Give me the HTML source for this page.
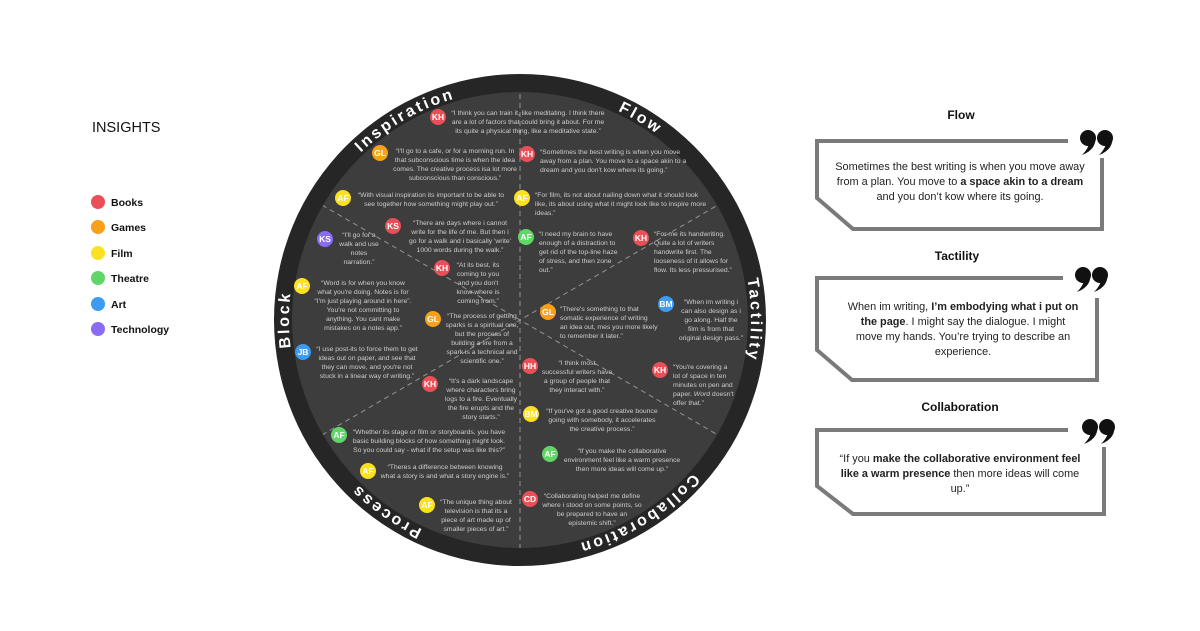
<!DOCTYPE html>
<html><head><meta charset="utf-8"><style>
html,body{margin:0;padding:0;background:#fff;}
svg{display:block;}
.q{font-family:"Liberation Sans",sans-serif;font-size:6.8px;fill:#cdcdcd;}
.c{text-anchor:middle;}
.av{font-family:"Liberation Sans",sans-serif;font-size:8.5px;font-weight:bold;fill:#fff;text-anchor:middle;}
.ring{font-family:"Liberation Sans","DejaVu Sans",sans-serif;font-size:16px;font-weight:bold;fill:#fff;letter-spacing:2.6px;}
.lg{font-family:"Liberation Sans",sans-serif;font-size:10.5px;font-weight:bold;fill:#111;}
.bt{font-family:"Liberation Sans",sans-serif;font-size:12px;font-weight:bold;fill:#111;text-anchor:middle;}
.bx{font-family:"Liberation Sans",sans-serif;font-size:10.9px;fill:#222;text-anchor:middle;}
.fr{fill:none;stroke:#7a7a7a;stroke-width:4;}
</style></head><body>
<svg width="1200" height="631" viewBox="0 0 1200 631" xmlns="http://www.w3.org/2000/svg">
<defs>
<path id="rp" d="M520,551 A231,231 0 1 1 520,89 A231,231 0 1 1 520,551"/>
<clipPath id="ic"><circle cx="520" cy="320" r="228"/></clipPath>
</defs>
<!-- legend -->
<text x="92" y="132" font-family="Liberation Sans,sans-serif" font-size="14.5" fill="#111">INSIGHTS</text>
<circle cx="98" cy="202" r="7" fill="#ea4f57"/><text class="lg" x="111" y="206">Books</text>
<circle cx="98" cy="227" r="7" fill="#f7a019"/><text class="lg" x="111" y="231">Games</text>
<circle cx="98" cy="253" r="7" fill="#fbe122"/><text class="lg" x="111" y="257">Film</text>
<circle cx="98" cy="278" r="7" fill="#5fd667"/><text class="lg" x="111" y="282">Theatre</text>
<circle cx="98" cy="304" r="7" fill="#3d9bf0"/><text class="lg" x="111" y="308">Art</text>
<circle cx="98" cy="329" r="7" fill="#8a6cf2"/><text class="lg" x="111" y="333">Technology</text>

<!-- wheel -->
<circle cx="520" cy="320" r="246" fill="#262626"/>
<circle cx="520" cy="320" r="228" fill="#3d3d3d"/>
<g clip-path="url(#ic)" stroke="#aaa" stroke-width="1" stroke-dasharray="5,4" opacity="0.8">
<line x1="520" y1="85" x2="520" y2="555"/>
<line x1="322" y1="205" x2="718" y2="435"/>
<line x1="322" y1="435" x2="718" y2="205"/>
</g>
<text class="ring"><textPath href="#rp" startOffset="605" text-anchor="middle">Inspiration</textPath></text>
<text class="ring"><textPath href="#rp" startOffset="850" text-anchor="middle">Flow</textPath></text>
<text class="ring"><textPath href="#rp" startOffset="1088" text-anchor="middle">Tactility</textPath></text>
<text class="ring"><textPath href="#rp" startOffset="1324" text-anchor="middle">Collaboration</textPath></text>
<text class="ring"><textPath href="#rp" startOffset="141" text-anchor="middle">Process</textPath></text>
<text class="ring"><textPath href="#rp" startOffset="363" text-anchor="middle">Block</textPath></text>

<!-- avatars -->
<g>
<circle cx="438" cy="117" r="8" fill="#ea4f57"/><text class="av" x="438" y="120">KH</text>
<circle cx="380" cy="153" r="8" fill="#f7a019"/><text class="av" x="380" y="156">GL</text>
<circle cx="343" cy="198" r="8" fill="#fbe122"/><text class="av" x="343" y="201">AF</text>
<circle cx="393" cy="226" r="8" fill="#ea4f57"/><text class="av" x="393" y="229">KS</text>
<circle cx="325" cy="239" r="8" fill="#8a6cf2"/><text class="av" x="325" y="242">KS</text>
<circle cx="442" cy="268" r="8" fill="#ea4f57"/><text class="av" x="442" y="271">KH</text>
<circle cx="302" cy="286" r="8" fill="#fbe122"/><text class="av" x="302" y="289">AF</text>
<circle cx="433" cy="319" r="8" fill="#f7a019"/><text class="av" x="433" y="322">GL</text>
<circle cx="303" cy="352" r="8" fill="#3d9bf0"/><text class="av" x="303" y="355">JB</text>
<circle cx="430" cy="384" r="8" fill="#ea4f57"/><text class="av" x="430" y="387">KH</text>
<circle cx="339" cy="435" r="8" fill="#5fd667"/><text class="av" x="339" y="438">AF</text>
<circle cx="368" cy="471" r="8" fill="#fbe122"/><text class="av" x="368" y="474">AF</text>
<circle cx="427" cy="505" r="8" fill="#fbe122"/><text class="av" x="427" y="508">AF</text>
<circle cx="527" cy="154" r="8" fill="#ea4f57"/><text class="av" x="527" y="157">KH</text>
<circle cx="522" cy="198" r="8" fill="#fbe122"/><text class="av" x="522" y="201">AF</text>
<circle cx="526" cy="237" r="8" fill="#5fd667"/><text class="av" x="526" y="240">AF</text>
<circle cx="641" cy="238" r="8" fill="#ea4f57"/><text class="av" x="641" y="241">KH</text>
<circle cx="548" cy="312" r="8" fill="#f7a019"/><text class="av" x="548" y="315">GL</text>
<circle cx="666" cy="304" r="8" fill="#3d9bf0"/><text class="av" x="666" y="307">BM</text>
<circle cx="530" cy="366" r="8" fill="#ea4f57"/><text class="av" x="530" y="369">HH</text>
<circle cx="660" cy="370" r="8" fill="#ea4f57"/><text class="av" x="660" y="373">KH</text>
<circle cx="531" cy="414" r="8" fill="#fbe122"/><text class="av" x="531" y="417">BM</text>
<circle cx="550" cy="454" r="8" fill="#5fd667"/><text class="av" x="550" y="457">AF</text>
<circle cx="530" cy="499" r="8" fill="#ea4f57"/><text class="av" x="530" y="502">CD</text>
</g>

<!-- quotes left (centered) -->
<g class="q c">
<text x="528" y="115">“I think you can train it, like meditating. I think there</text>
<text x="528" y="124">are a lot of factors that could bring it about. For me</text>
<text x="528" y="133">its quite a physical thing, like a meditative state.”</text>

<text x="455" y="153">“I'll go to a cafe, or for a morning run. In</text>
<text x="455" y="162">that subconscious time is when the idea</text>
<text x="455" y="171">comes. The creative process isa lot more</text>
<text x="455" y="180">subconscious than conscious.”</text>

<text x="431" y="197">“With visual inspiration its important to be able to</text>
<text x="431" y="206">see together how something might play out.”</text>

<text x="460" y="225">“There are days where i cannot</text>
<text x="460" y="234">write for the life of me. But then i</text>
<text x="460" y="243">go for a walk and i basically 'write'</text>
<text x="460" y="252">1000 words during the walk.”</text>

<text x="359" y="237">“I'll go for a</text>
<text x="359" y="246">walk and use</text>
<text x="359" y="255">notes</text>
<text x="359" y="264">narration.”</text>

<text x="478" y="267">“At its best, its</text>
<text x="478" y="276">coming to you</text>
<text x="478" y="285">and you don't</text>
<text x="478" y="294">know where is</text>
<text x="478" y="303">coming from.”</text>

<text x="363" y="285">“Word is for when you know</text>
<text x="363" y="294">what you're doing. Notes is for</text>
<text x="363" y="303">“I'm just playing around in here”.</text>
<text x="363" y="312">You're not committing to</text>
<text x="363" y="321">anything. You cant make</text>
<text x="363" y="330">mistakes on a notes app.”</text>

<text x="482" y="318">“The process of getting</text>
<text x="482" y="327">sparks is a spiritual one,</text>
<text x="482" y="336">but the process of</text>
<text x="482" y="345">building a fire from a</text>
<text x="482" y="354">spark is a technical and</text>
<text x="482" y="363">scientific one.”</text>

<text x="367" y="351">“I use post-its to force them to get</text>
<text x="367" y="360">ideas out on paper, and see that</text>
<text x="367" y="369">they can move, and you're not</text>
<text x="367" y="378">stuck in a linear way of writing.”</text>

<text x="481" y="383">“It's a dark landscape</text>
<text x="481" y="392">where characters bring</text>
<text x="481" y="401">logs to a fire. Eventually</text>
<text x="481" y="410">the fire erupts and the</text>
<text x="481" y="419">story starts.”</text>

<text x="429" y="434">“Whether its stage or film or storyboards, you have</text>
<text x="429" y="443">basic building blocks of how something might look.</text>
<text x="429" y="452">So you could say - what if the setup was like this?”</text>

<text x="445" y="469">“Theres a difference between knowing</text>
<text x="445" y="478">what a story is and what a story engine is.”</text>

<text x="476" y="504">“The unique thing about</text>
<text x="476" y="513">television is that its a</text>
<text x="476" y="522">piece of art made up of</text>
<text x="476" y="531">smaller pieces of art.”</text>

<text x="711" y="304">“When im writing i</text>
<text x="711" y="313">can also design as i</text>
<text x="711" y="322">go along. Half the</text>
<text x="711" y="331">film is from that</text>
<text x="711" y="340">original design pass.”</text>

<text x="577" y="365">“I think most</text>
<text x="577" y="374">successful writers have</text>
<text x="577" y="383">a group of people that</text>
<text x="577" y="392">they interact with.”</text>

<text x="602" y="413">“If you've got a good creative bounce</text>
<text x="602" y="422">going with somebody, it accelerates</text>
<text x="602" y="431">the creative process.”</text>

<text x="622" y="453">“If you make the collaborative</text>
<text x="622" y="462">environment feel like a warm presence</text>
<text x="622" y="471">then more ideas will come up.”</text>

<text x="592" y="498">“Collaborating helped me define</text>
<text x="592" y="507">where i stood on some points, so</text>
<text x="592" y="516">be prepared to have an</text>
<text x="592" y="525">epistemic shift.”</text>
</g>
<!-- quotes right (left-aligned) -->
<g class="q">
<text x="540" y="154">“Sometimes the best writing is when you move</text>
<text x="540" y="163">away from a plan. You move to a space akin to a</text>
<text x="540" y="172">dream and you don't kow where its going.”</text>

<text x="535" y="197">“For film, its not about nailing down what it should look</text>
<text x="535" y="206">like, its about using what it might look like to inspire more</text>
<text x="535" y="215">ideas.”</text>

<text x="539" y="236">“I need my brain to have</text>
<text x="539" y="245">enough of a distraction to</text>
<text x="539" y="254">get rid of the top-line haze</text>
<text x="539" y="263">of stress, and then zone</text>
<text x="539" y="272">out.”</text>

<text x="654" y="236">“For me its handwriting.</text>
<text x="654" y="245">Quite a lot of writers</text>
<text x="654" y="254">handwrite first. The</text>
<text x="654" y="263">looseness of it allows for</text>
<text x="654" y="272">flow. Its less pressurised.”</text>

<text x="560" y="311">“There's something to that</text>
<text x="560" y="320">somatic experience of writing</text>
<text x="560" y="329">an idea out, mes you more likely</text>
<text x="560" y="338">to remember it later.”</text>

<text x="673" y="369">“You're covering a</text>
<text x="673" y="378">lot of space in ten</text>
<text x="673" y="387">minutes on pen and</text>
<text x="673" y="396">paper. <tspan font-style="italic">Word</tspan> doesn't</text>
<text x="673" y="405">offer that.”</text>
</g>

<!-- right boxes -->
<text class="bt" x="961" y="119">Flow</text>
<path class="fr" d="M1068,141 H817 V198 L853,229 H1102 V158"/>
<g fill="#111">
<circle cx="1088" cy="138" r="8"/><path d="M1095,134 Q1098,149 1082,155 Q1090,147 1089,140 Z"/>
<circle cx="1105" cy="138" r="8"/><path d="M1112,134 Q1115,149 1099,155 Q1107,147 1106,140 Z"/>
</g>
<text class="bx" x="960" y="170">Sometimes the best writing is when you move away</text>
<text class="bx" x="960" y="185">from a plan. You move to <tspan font-weight="bold">a space akin to a dream</tspan></text>
<text class="bx" x="960" y="200">and you don’t kow where its going.</text>

<text class="bt" x="957" y="260">Tactility</text>
<path class="fr" d="M1063,278 H817 V350 L852,380 H1097 V298"/>
<g fill="#111">
<circle cx="1083" cy="275" r="8"/><path d="M1090,271 Q1093,286 1077,292 Q1085,284 1084,277 Z"/>
<circle cx="1100" cy="275" r="8"/><path d="M1107,271 Q1110,286 1094,292 Q1102,284 1101,277 Z"/>
</g>
<text class="bx" x="963" y="310">When im writing, <tspan font-weight="bold">I’m embodying what i put on</tspan></text>
<text class="bx" x="963" y="325"><tspan font-weight="bold">the page</tspan>. I might say the dialogue. I might</text>
<text class="bx" x="963" y="340">move my hands. You’re trying to describe an</text>
<text class="bx" x="963" y="355">experience.</text>

<text class="bt" x="960" y="411">Collaboration</text>
<path class="fr" d="M1068,430 H817 V486 L853,514 H1104 V447"/>
<g fill="#111">
<circle cx="1090" cy="427" r="8"/><path d="M1097,423 Q1100,438 1084,444 Q1092,436 1091,429 Z"/>
<circle cx="1107" cy="427" r="8"/><path d="M1114,423 Q1117,438 1101,444 Q1109,436 1108,429 Z"/>
</g>
<text class="bx" x="960" y="462">“If you <tspan font-weight="bold">make the collaborative environment feel</tspan></text>
<text class="bx" x="960" y="477"><tspan font-weight="bold">like a warm presence</tspan> then more ideas will come</text>
<text class="bx" x="960" y="492">up.”</text>
</svg>
</body></html>
